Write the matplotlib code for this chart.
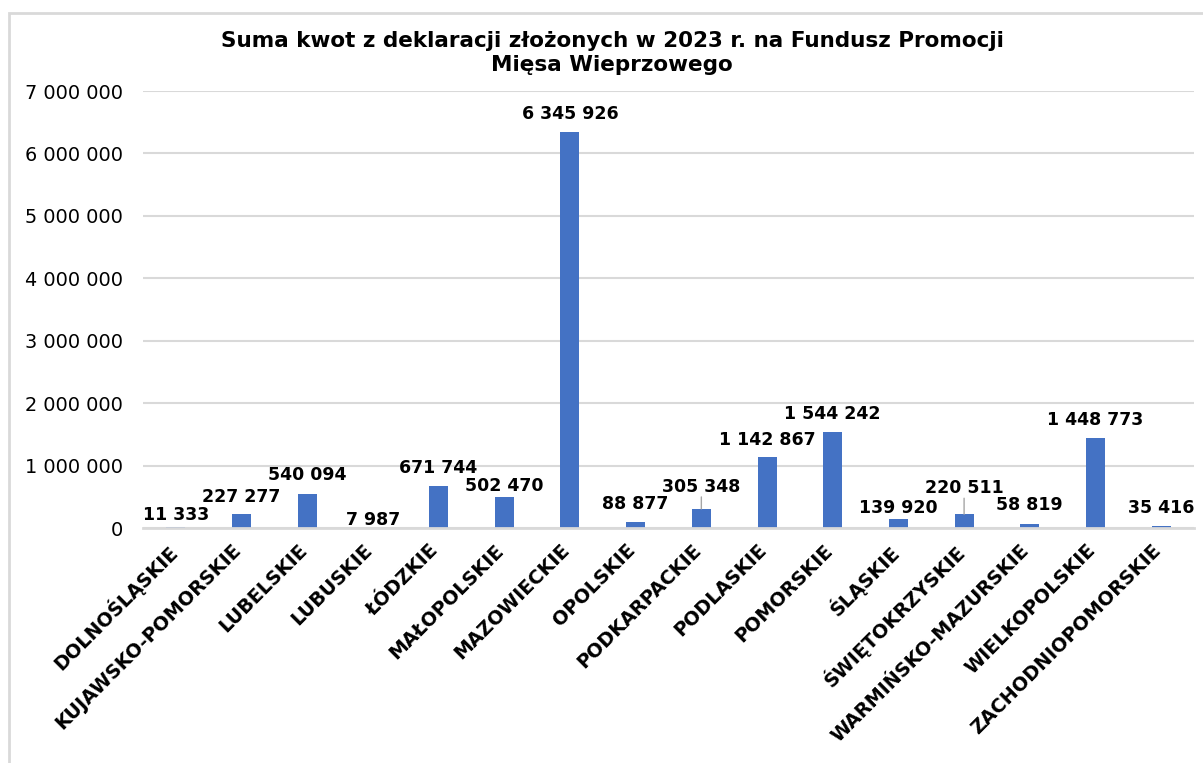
import numpy as np
import matplotlib.pyplot as plt
from matplotlib.patches import Rectangle
from matplotlib.ticker import FuncFormatter
from matplotlib.transforms import ScaledTranslation

# data
regions = ['DOLNOŚLĄSKIE', 'KUJAWSKO-POMORSKIE', 'LUBELSKIE', 'LUBUSKIE', 'ŁÓDZKIE',
           'MAŁOPOLSKIE', 'MAZOWIECKIE', 'OPOLSKIE', 'PODKARPACKIE', 'PODLASKIE',
           'POMORSKIE', 'ŚLĄSKIE', 'ŚWIĘTOKRZYSKIE', 'WARMIŃSKO-MAZURSKIE',
           'WIELKOPOLSKIE', 'ZACHODNIOPOMORSKIE']
amounts = [11333, 227277, 540094, 7987, 671744, 502470, 6345926, 88877, 305348,
           1142867, 1544242, 139920, 220511, 58819, 1448773, 35416]
# label lift above bar top (pixels), a few labels were moved by hand in the original
label_lift = [12, 17, 19, 8, 18, 11, 18, 18, 22, 17, 18, 11, 26, 19, 18, 18]
leader = [False] * 8 + [True] + [False] * 3 + [True] + [False] * 3

def fmt(v):
    return f'{int(v):,}'.replace(',', ' ')

plt.rcParams['font.family'] = 'DejaVu Sans'

fig = plt.figure(figsize=(12.03, 7.63), dpi=100)
W, H = 1203, 763
fig.patches.append(Rectangle((9 / W, -0.1), 1.2, 1 - 13 / H + 0.1, transform=fig.transFigure,
                             fill=False, edgecolor='#d9d9d9', linewidth=2))

ax = fig.add_axes([143 / W, 1 - 528 / H, (1194 - 143) / W, (528 - 91) / H])
x = np.arange(len(regions))
ax.bar(x, amounts, width=0.29, color='#4472C4', zorder=3)
ax.set_xlim(-0.5, len(regions) - 0.5)
ax.set_ylim(0, 7000000)
ax.set_yticks(np.arange(0, 7000001, 1000000))
ax.yaxis.set_major_formatter(FuncFormatter(lambda v, p: fmt(v)))
ax.grid(axis='y', color='#d9d9d9', linewidth=1.5, zorder=0)
for s in ['left', 'right', 'top']:
    ax.spines[s].set_visible(False)
ax.spines['bottom'].set_color('#d9d9d9')
ax.spines['bottom'].set_linewidth(2)
ax.spines['bottom'].set_zorder(4)
ax.tick_params(axis='y', length=0, labelsize=13.9, pad=14.4)
ax.tick_params(axis='x', length=0, pad=9)
ax.set_xticks(x)
ax.set_xticklabels(regions, rotation=45, ha='right', rotation_mode='anchor',
                   fontweight='bold', fontsize=13.8)
shift = ScaledTranslation(-0.10, 0, fig.dpi_scale_trans)
for lab in ax.get_xticklabels():
    lab.set_transform(lab.get_transform() + shift)

for i, v in enumerate(amounts):
    ax.annotate(fmt(v), (i, v), xytext=(0, label_lift[i]), textcoords='offset pixels',
                ha='center', va='center', fontweight='bold', fontsize=12.5)
    if leader[i]:
        ax.annotate('', (i, v), xytext=(0, label_lift[i] - 10), textcoords='offset pixels',
                    arrowprops=dict(arrowstyle='-', color='#a6a6a6', linewidth=1,
                                    shrinkA=0, shrinkB=0))

fig.text(612 / W, 1 - 53 / H, 'Suma kwot z deklaracji złożonych w 2023 r. na Fundusz Promocji\nMięsa Wieprzowego',
         ha='center', va='center', fontweight='bold', fontsize=15.5, linespacing=1.25)

fig.savefig('out.png', dpi=100)
